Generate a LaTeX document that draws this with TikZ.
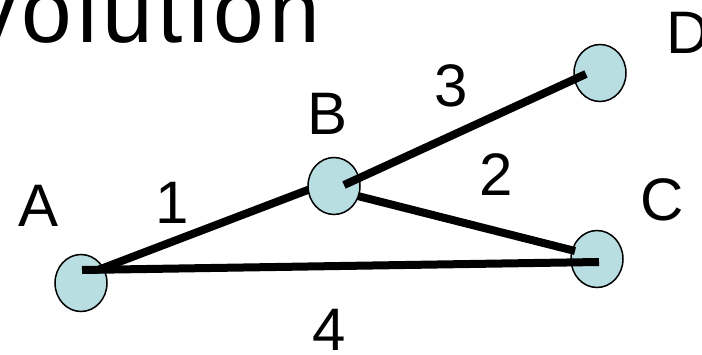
\documentclass[tikz,border=0pt]{standalone}
\usepackage{fontspec}
\setmainfont{Liberation Sans}
\usetikzlibrary{shapes.geometric,calc}
\definecolor{vfill}{RGB}{185,222,226}
\pgfdeclarelayer{under}
\pgfdeclarelayer{lines}
\pgfdeclarelayer{over}
\pgfsetlayers{under,lines,main,over}
\begin{document}
\begin{tikzpicture}[x=1pt,y=-1pt,
  vtx/.style={ellipse,draw=black,line width=1.5pt,fill=vfill,inner sep=0pt,minimum width=52pt,minimum height=57pt},
  lbl/.style={font=\fontsize{60}{60}\selectfont,inner sep=0pt},
  edge/.style={line width=8pt,black}]
\useasboundingbox (0,0) rectangle (702,355);
\node[font=\fontsize{91}{91}\selectfont\addfontfeature{LetterSpace=5.5},anchor=base east,inner sep=0pt] (title) at (320,43) {Evolution};
\begin{pgfonlayer}{under}
\node[vtx] (A) at (81,283) {};
\node[vtx] (C) at (597,259) {};
\node[vtx] (D) at (600,73) {};
\end{pgfonlayer}
\node[vtx] (B) at (334,186) {};
\begin{pgfonlayer}{lines}
\draw[edge] ($(A.center)+(17,-13)$) -- ($(B.center)+(0,-6)$);
\draw[edge] ($(A.center)+(1,-13)$) -- ($(C.center)+(2,3)$);
\draw[edge] ($(B.center)+(0,4)$) -- ($(C.center)+(-22,-8)$);
\end{pgfonlayer}
\begin{pgfonlayer}{over}
\draw[edge] ($(B.center)+(10,-1)$) -- ($(D.center)+(-14,1)$);
\end{pgfonlayer}
\node[lbl] (la) at (39,206) {A};
\node[lbl] (lb) at (328,114) {B};
\node[lbl] (lc) at (662,200) {C};
\node[lbl] (ld) at (688,33) {D};
\node[lbl] (e1) at (172,203) {1};
\node[lbl] (e2) at (496,175) {2};
\node[lbl] (e3) at (451,86) {3};
\node[lbl] (e4) at (329,330) {4};
\end{tikzpicture}
\end{document}
